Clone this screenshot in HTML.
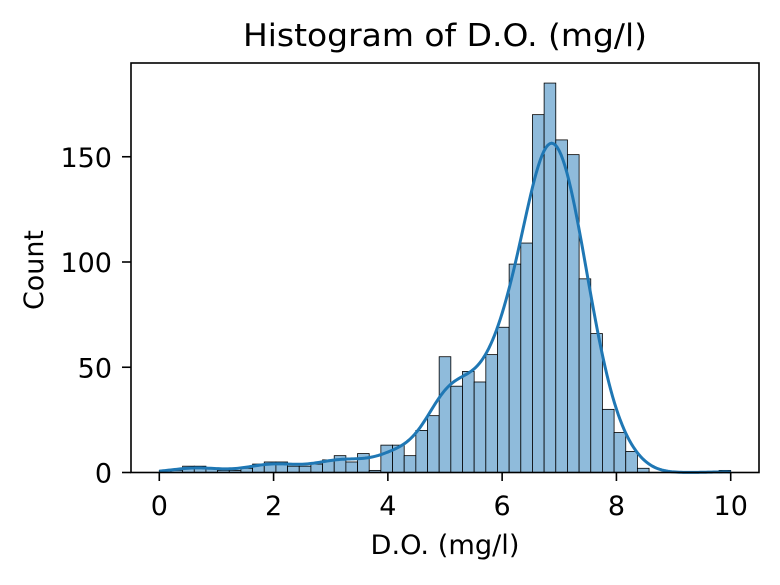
<!DOCTYPE html>
<html><head><meta charset="utf-8">
<style>
body{margin:0;background:#fff;}
svg text{font-family:"DejaVu Sans","Liberation Sans",sans-serif;fill:#000;}
</style></head>
<body>
<svg id="chart" width="780" height="580" viewBox="0 0 780 580" xmlns="http://www.w3.org/2000/svg">
<rect width="780" height="580" fill="#fff"/>
<text x="445" y="46" font-size="31" text-anchor="middle" textLength="404" lengthAdjust="spacingAndGlyphs">Histogram of D.O. (mg/l)</text>
<g id="bars"></g>
<path id="kde" fill="none" stroke="#1f77b4" stroke-width="3"/>
<rect x="131" y="63" width="628" height="409.5" fill="none" stroke="#000" stroke-width="1.6"/>
<g id="xticks"></g>
<g id="yticks"></g>
<text x="445" y="554" font-size="27" text-anchor="middle" textLength="149" lengthAdjust="spacingAndGlyphs">D.O. (mg/l)</text>
<text transform="translate(43,270) rotate(-90)" font-size="27" text-anchor="middle" textLength="80" lengthAdjust="spacingAndGlyphs">Count</text>
</svg>
<script>
const binStart = 0;
const binWidth = 10/49;
const counts = [1,1,3,3,2,1,1,2,4,5,5,3,3,4,6,8,5,9,1,13,13,8,20,27,55,41,48,43,56,69,99,109,170,185,158,151,92,66,30,19,10,2,0,0,0,0,0,0,1];
const xTicks = [0,2,4,6,8,10];
const yTicks = [0,50,100,150];
const bandwidth = 0.3;

const NS = "http://www.w3.org/2000/svg";
function xs(v){return 159.3 + v*57.14;}
function ys(c){return 472.5 - c*2.105;}

const bars = document.getElementById('bars');
counts.forEach((c,k)=>{
  if(c<=0) return;
  const x0 = xs(binStart + k*binWidth), x1 = xs(binStart+(k+1)*binWidth);
  const r = document.createElementNS(NS,'rect');
  r.setAttribute('x',x0); r.setAttribute('width',x1-x0);
  r.setAttribute('y',ys(c)); r.setAttribute('height',ys(0)-ys(c));
  r.setAttribute('fill','#8fbbdb'); r.setAttribute('stroke','#000'); r.setAttribute('stroke-width','0.8');
  
  
  bars.appendChild(r);
});

function kdeAt(x){
  let s=0;
  counts.forEach((c,k)=>{
    const m = binStart+(k+0.5)*binWidth;
    const z=(x-m)/bandwidth;
    s += c*Math.exp(-0.5*z*z)/(bandwidth*Math.sqrt(2*Math.PI))*binWidth;
  });
  return s;
}
let d='';
for(let i=0;i<=300;i++){
  const x=binStart + i*(49*binWidth)/300;
  d += (i?'L':'M')+xs(x).toFixed(2)+','+ys(kdeAt(x)).toFixed(2);
}
document.getElementById('kde').setAttribute('d',d);

const xg=document.getElementById('xticks');
xTicks.forEach(t=>{
  const l=document.createElementNS(NS,'line');
  l.setAttribute('x1',xs(t));l.setAttribute('x2',xs(t));l.setAttribute('y1',472.5);l.setAttribute('y2',481);
  l.setAttribute('stroke','#000');l.setAttribute('stroke-width','1.6');
  
  
  xg.appendChild(l);
  const tx=document.createElementNS(NS,'text');
  tx.setAttribute('x',xs(t));tx.setAttribute('y',515);tx.setAttribute('font-size','27');tx.setAttribute('text-anchor','middle');
  tx.textContent=t;
  
  
  xg.appendChild(tx);
});
const yg=document.getElementById('yticks');
yTicks.forEach(t=>{
  const l=document.createElementNS(NS,'line');
  l.setAttribute('x1',122);l.setAttribute('x2',131);l.setAttribute('y1',ys(t));l.setAttribute('y2',ys(t));
  l.setAttribute('stroke','#000');l.setAttribute('stroke-width','1.6');
  
  
  yg.appendChild(l);
  const tx=document.createElementNS(NS,'text');
  tx.setAttribute('x',112);tx.setAttribute('y',ys(t)+10);tx.setAttribute('font-size','27');tx.setAttribute('text-anchor','end');
  tx.textContent=t;
  
  
  yg.appendChild(tx);
});
</script>
</body></html>
